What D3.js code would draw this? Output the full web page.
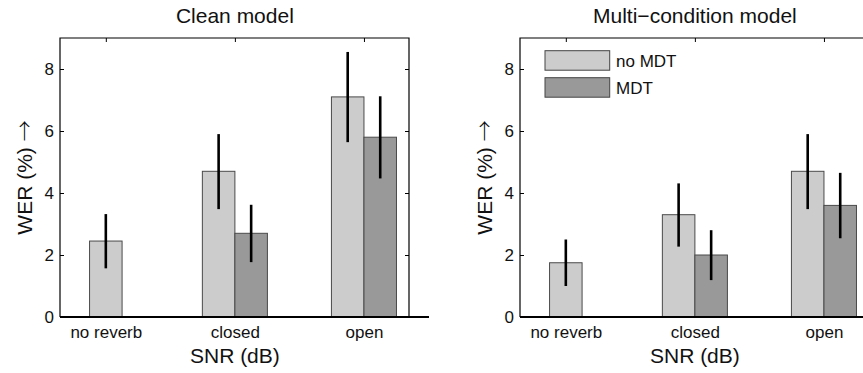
<!DOCTYPE html>
<html>
<head>
<meta charset="utf-8">
<script src="https://cdn.jsdelivr.net/npm/d3@7"></script>
<style>
  body { margin: 0; background: #fff; }
  svg { display: block; font-family: "Liberation Sans", Arial, sans-serif; }
</style>
</head>
<body>
<div id="chart"></div>
<script>
// values
const categories = ["no reverb", "closed", "open"];
const yTicks = [0, 2, 4, 6, 8];
const seriesNames = ["no MDT", "MDT"];

const cleanNoMdt   = [2.45, 4.7, 7.1];
const cleanNoMdtLo = [1.57, 3.48, 5.64];
const cleanNoMdtHi = [3.32, 5.9, 8.55];
const cleanMdt     = [null, 2.7, 5.8];
const cleanMdtLo   = [null, 1.77, 4.47];
const cleanMdtHi   = [null, 3.62, 7.12];

const multiNoMdt   = [1.75, 3.3, 4.7];
const multiNoMdtLo = [1.0, 2.27, 3.48];
const multiNoMdtHi = [2.5, 4.31, 5.9];
const multiMdt     = [null, 2.0, 3.6];
const multiMdtLo   = [null, 1.19, 2.54];
const multiMdtHi   = [null, 2.8, 4.65];

const W = 863, H = 373;
const colors = ["#cccccc", "#999999"];
const barW = 0.252;
const FONT = "Liberation Sans, Arial, sans-serif";

const svg = d3.select("#chart").append("svg")
  .attr("width", W).attr("height", H);

function drawPanel(left, title, noV, noLo, noHi, mV, mLo, mHi, legend) {
  const width = 349, top = 38, bottom = 317;
  const g = svg.append("g").attr("transform", `translate(${left},0)`);

  const x = d3.scaleLinear().domain([0.645, 3.349]).range([0, width]);
  const y = d3.scaleLinear().domain([0, 9]).range([bottom, top]);

  // build bar records
  const bars = [];
  categories.forEach((c, i) => {
    const single = mV[i] == null;
    bars.push({ s: 0, c: i + 1, off: single ? -barW / 2 : -barW, v: noV[i], lo: noLo[i], hi: noHi[i] });
    if (!single) bars.push({ s: 1, c: i + 1, off: 0, v: mV[i], lo: mLo[i], hi: mHi[i] });
  });

  // frame (top, left, right)
  g.append("path")
    .attr("d", `M${x.range()[0]},${bottom}V${top}H${x.range()[1]}V${bottom}`)
    .attr("fill", "none").attr("stroke", "#000").attr("stroke-width", 1.2);

  // y axis, inward ticks
  const ya = g.append("g")
    .call(d3.axisLeft(y).tickValues(yTicks).tickSize(-4).tickPadding(6));
  ya.select(".domain").remove();
  ya.selectAll("text").attr("font-size", 17).attr("font-family", FONT).attr("fill", "#111");

  const yr = g.append("g").attr("transform", `translate(${width},0)`)
    .call(d3.axisRight(y).tickValues(yTicks).tickSize(-4).tickFormat(""));
  yr.select(".domain").remove();

  // top ticks
  const xt = g.append("g").attr("transform", `translate(0,${top})`)
    .call(d3.axisTop(x).tickValues([1, 2, 3]).tickSize(-4).tickFormat(""));
  xt.select(".domain").remove();

  // bottom axis labels
  const xb = g.append("g").attr("transform", `translate(0,${bottom})`)
    .call(d3.axisBottom(x).tickValues([1, 2, 3]).tickSize(-4).tickPadding(9)
      .tickFormat(d => categories[d - 1]));
  xb.select(".domain").remove();
  xb.selectAll("text").attr("font-size", 17).attr("font-family", FONT).attr("fill", "#111");

  // bars
  g.selectAll("rect.bar").data(bars).join("rect")
    .attr("class", "bar")
    .attr("x", d => x(d.c + d.off))
    .attr("width", d => x(d.c + d.off + barW) - x(d.c + d.off))
    .attr("y", d => y(d.v))
    .attr("height", d => y(0) - y(d.v))
    .attr("fill", d => colors[d.s])
    .attr("stroke", "#4a4a4a").attr("stroke-width", 1);

  // error bars
  g.selectAll("line.err").data(bars).join("line")
    .attr("class", "err")
    .attr("x1", d => x(d.c + d.off + barW / 2))
    .attr("x2", d => x(d.c + d.off + barW / 2))
    .attr("y1", d => y(d.lo)).attr("y2", d => y(d.hi))
    .attr("stroke", "#000").attr("stroke-width", 2.6);

  // bottom axis line (thicker)
  g.append("line")
    .attr("x1", 0).attr("x2", width + 20)
    .attr("y1", bottom).attr("y2", bottom)
    .attr("stroke", "#000").attr("stroke-width", 2);

  // titles and labels
  g.append("text").attr("x", x(2)).attr("y", 23).attr("text-anchor", "middle")
    .attr("font-size", 21).attr("fill", "#111").text(title);
  g.append("text").attr("x", x(2)).attr("y", 363).attr("text-anchor", "middle")
    .attr("font-size", 21).attr("fill", "#111").text("SNR (dB)");
  const yl = g.append("text").attr("transform", `translate(${-28},177.5) rotate(-90)`)
    .attr("text-anchor", "middle").attr("font-size", 21).attr("fill", "#111");
  yl.append("tspan").text("WER (%) ");
  yl.append("tspan").attr("font-family", "Noto Sans CJK SC").attr("font-weight", 300).text("\u2192");

  if (legend) {
    const lg = g.append("g").attr("transform", "translate(25,0)");
    seriesNames.forEach((n, i) => {
      lg.append("rect").attr("x", 0).attr("y", 50.7 + i * 27)
        .attr("width", 64.7).attr("height", 19.5)
        .attr("fill", colors[i]).attr("stroke", "#444").attr("stroke-width", 1);
      lg.append("text").attr("x", 71).attr("y", 66.5 + i * 27)
        .attr("font-size", 17).attr("fill", "#111").text(n);
    });
  }
}

drawPanel(60, "Clean model", cleanNoMdt, cleanNoMdtLo, cleanNoMdtHi, cleanMdt, cleanMdtLo, cleanMdtHi, false);
drawPanel(520, "Multi\u2212condition model", multiNoMdt, multiNoMdtLo, multiNoMdtHi, multiMdt, multiMdtLo, multiMdtHi, true);
</script>
</body>
</html>
